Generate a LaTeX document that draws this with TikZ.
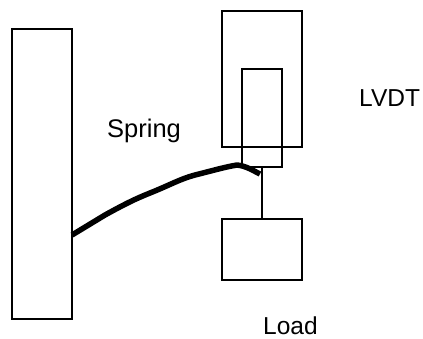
\documentclass[tikz,border=0pt]{standalone}
\usepackage{fontspec}
\setmainfont{Liberation Sans}
\begin{document}
\begin{tikzpicture}[x=1pt,y=-1pt,
  boxpart/.style={draw=black,line width=1.5pt,fill=none,inner sep=0pt,outer sep=0pt,anchor=north west},
  rod/.style={draw=black,line width=1.5pt},
  springline/.style={draw=black,line width=5.5pt,line join=round},
  lbl/.style={font=\fontsize{24.5}{29}\selectfont,inner sep=0pt,text=black}]
\useasboundingbox (0,0) rectangle (423,338);
\node[boxpart,minimum width=60pt,minimum height=290pt] (wall) at (12,29) {};
\node[boxpart,minimum width=80pt,minimum height=136pt] (housing) at (222,11) {};
\node[boxpart,minimum width=40pt,minimum height=98pt] (core) at (242,69) {};
\node[boxpart,minimum width=80pt,minimum height=61pt] (load) at (222,219) {};
\draw[rod] (core.south) -- (load.north);
\coordinate (sa) at (wall.east |- 0,235);
\coordinate (sb) at (260,174);
\draw[springline] (sa) -- (105,215) .. controls (125,204) and (135,199) .. (150,193)
  .. controls (170,185) and (180,179) .. (195,175) .. controls (215,170) and (225,167) .. (237,165)
  .. controls (246,166) and (252,170) .. (sb);
\node[lbl,font=\fontsize{25.5}{30}\selectfont,anchor=base west] (spring) at (107,137) {Spring};
\node[lbl,anchor=base west] (lvdt) at (359,106) {LVDT};
\node[lbl,anchor=base west] (loadlabel) at (263,334) {Load};
\end{tikzpicture}
\end{document}
